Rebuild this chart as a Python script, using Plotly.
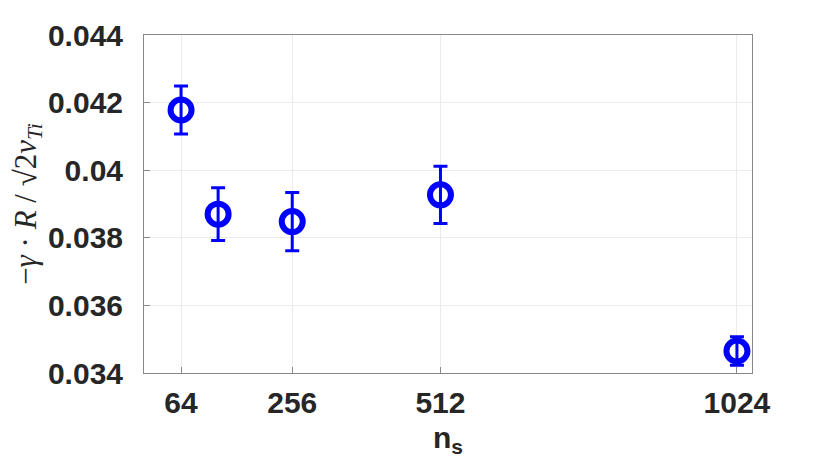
import plotly.graph_objects as go

# scan size n_s against normalised growth rate
n_s = [64, 128, 256, 512, 1024]
gamma_norm = [0.04178, 0.03870, 0.03848, 0.03927, 0.03465]
gamma_err = [0.00071, 0.00078, 0.00086, 0.00085, 0.00042]

xtick_vals = [64, 256, 512, 1024]
ytick_vals = [0.034, 0.036, 0.038, 0.040, 0.042, 0.044]
ytick_text = ['0.034', '0.036', '0.038', '0.04', '0.042', '0.044']

fig = go.Figure(go.Scatter(
    x=n_s,
    y=gamma_norm,
    mode='markers',
    marker=dict(symbol='circle-open', size=21, color='#0000ff',
                line=dict(width=6, color='#0000ff')),
    error_y=dict(type='data', array=gamma_err, visible=True,
                 color='#0000ff', thickness=3, width=7),
    showlegend=False,
))

tick_font = dict(family='Liberation Sans', size=30, color='#262626', weight='bold')

# page body adds an 8px offset, so the figure is 8px smaller on each side
fig.update_layout(
    width=822,
    height=464,
    margin=dict(l=136, r=78, t=27, b=99),
    plot_bgcolor='white',
    paper_bgcolor='white',
    xaxis=dict(
        range=[0, 1050],
        tickvals=xtick_vals,
        ticks='inside', ticklen=6, tickcolor='#888888',
        showline=True, linecolor='#888888', linewidth=1, mirror=True,
        showgrid=True, gridcolor='#ebebeb', zeroline=False,
        tickfont=tick_font, ticklabelstandoff=3, automargin=False,
        title=dict(text='n<sub>s</sub>', standoff=8,
                   font=dict(family='Liberation Sans', size=30,
                             color='#262626', weight='bold')),
    ),
    yaxis=dict(
        range=[0.034, 0.044],
        tickvals=ytick_vals,
        ticktext=ytick_text,
        ticks='inside', ticklen=6, tickcolor='#888888',
        showline=True, linecolor='#888888', linewidth=1, mirror=True,
        showgrid=True, gridcolor='#ebebeb', zeroline=False,
        tickfont=tick_font, ticklabelstandoff=14, automargin=False,
        title=dict(
            text="−<i>γ</i> · <i>R</i> / √2<i>v</i><sub><i>Ti</i></sub>",
            standoff=4,
            font=dict(family='Liberation Serif', size=31, color='#262626')),
    ),
)

fig.write_html("out.html")
